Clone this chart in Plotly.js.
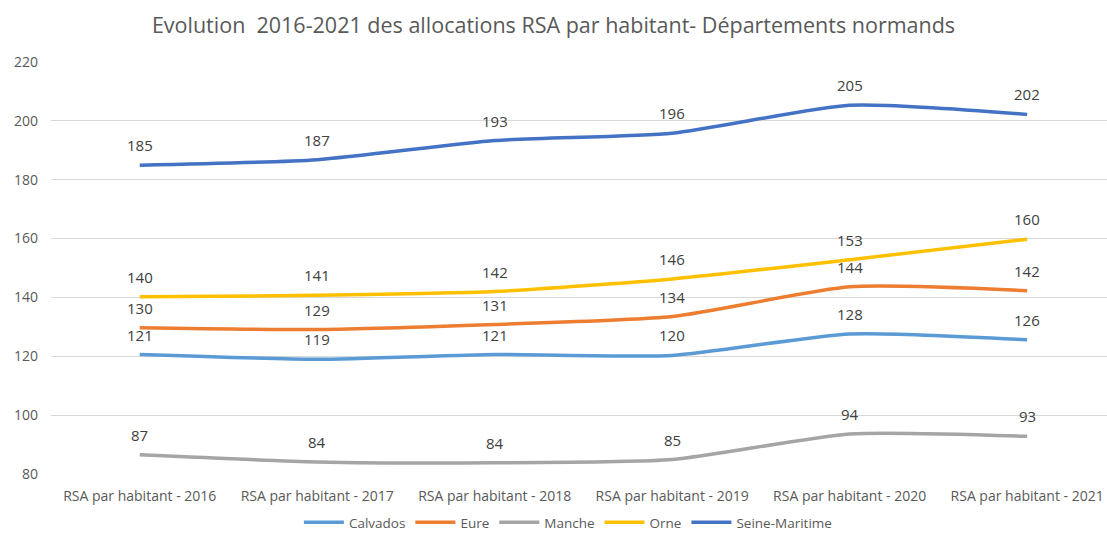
<!DOCTYPE html>
<html><head><meta charset="utf-8">
<script src="https://cdn.plot.ly/plotly-3.0.1.min.js"></script>
<style>html,body{margin:0;padding:0;background:#fff}#chart{width:1107px;height:538px}</style>
</head><body><div id="chart"></div>
<script>
const categories = ["RSA par habitant - 2016","RSA par habitant - 2017","RSA par habitant - 2018","RSA par habitant - 2019","RSA par habitant - 2020","RSA par habitant - 2021"];
const calvados = [120.6, 119.0, 120.6, 120.3, 127.6, 125.6];
const eure = [129.7, 129.1, 130.8, 133.5, 143.6, 142.3];
const manche = [86.5, 84.1, 83.8, 84.9, 93.6, 92.8];
const orne = [140.2, 140.7, 142.0, 146.3, 152.8, 159.8];
const seineMaritime = [184.9, 186.8, 193.3, 195.8, 205.3, 202.2];
const seriesNames = ["Calvados","Eure","Manche","Orne","Seine-Maritime"];
const colors = ["#5B9BD5","#ED7D31","#A5A5A5","#FFC000","#4472C4"];
const allSeries = [calvados, eure, manche, orne, seineMaritime];

const FONT = "Open Sans, Liberation Sans, sans-serif";
const traces = allSeries.map((vals, i) => ({
  x: categories, y: vals, type: 'scatter', mode: 'lines', name: seriesNames[i],
  line: {color: colors[i], width: 3.5, shape: 'spline', smoothing: 0.6},
  hoverinfo: 'skip'
}));
const annotations = [];
allSeries.forEach((vals) => {
  vals.forEach((v, j) => {
    annotations.push({x: categories[j], y: v, xref: 'x', yref: 'y', text: String(Math.round(v)),
      showarrow: false, yshift: 20, font: {family: FONT, size: 15, color: '#404040'}});
  });
});
const layout = {
  width: 1107, height: 538,
  margin: {l: 51, r: 0, t: 62, b: 64, autoexpand: false},
  paper_bgcolor: '#fff', plot_bgcolor: '#fff',
  title: {text: "Evolution  2016-2021 des allocations RSA par habitant- Départements normands",
    font: {family: FONT, size: 21.5, color: '#595959'}, x: 0.5, xanchor: 'center', y: 0.953, yanchor: 'middle'},
  xaxis: {type: 'category', range: [-0.5, 5.45], showgrid: false, zeroline: false, showline: false,
    tickfont: {family: FONT, size: 14, color: '#595959'}, ticks: '', ticklabelstandoff: 12, fixedrange: true},
  yaxis: {range: [80, 220], dtick: 20, tick0: 80, showgrid: true, gridcolor: '#D9D9D9', gridwidth: 1,
    zeroline: false, showline: false, tickfont: {family: FONT, size: 14, color: '#595959'}, ticks: '', ticklabelstandoff: 12},
  legend: {orientation: 'h', xref: 'container', yref: 'container', x: 0.513, xanchor: 'center', y: 0, yanchor: 'bottom',
    font: {family: FONT, size: 13.5, color: '#595959'}, itemwidth: 40, tracegroupgap: 0, bgcolor: 'rgba(0,0,0,0)'},
  annotations: annotations,
  showlegend: true
};
Plotly.newPlot('chart', traces, layout, {displayModeBar: false, staticPlot: true});
</script></body></html>
